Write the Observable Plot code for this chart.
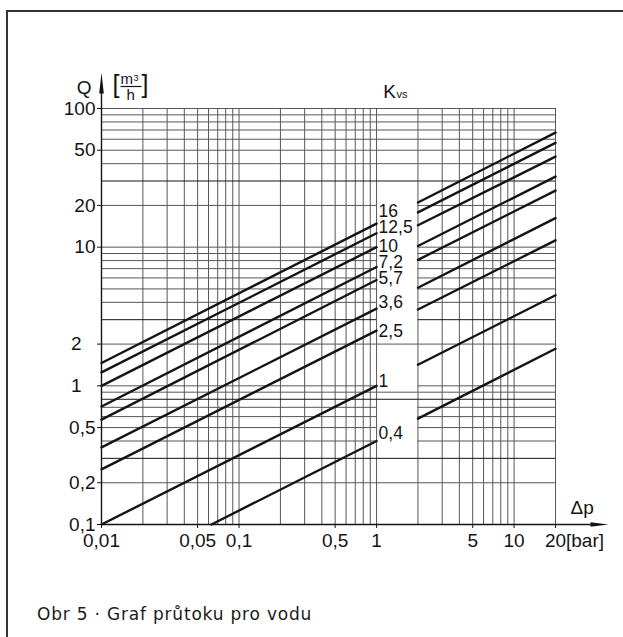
<!DOCTYPE html>
<html><head><meta charset="utf-8">
<script src="https://cdn.jsdelivr.net/npm/d3@7"></script>
<script src="https://cdn.jsdelivr.net/npm/@observablehq/plot@0.6"></script>
<style>
body{margin:0;background:#fff;}
#wrap{position:relative;width:623px;height:637px;overflow:hidden;font-family:"Liberation Sans",Arial,sans-serif;background:#fff;}
#frame{position:absolute;left:6px;top:10px;width:700px;height:700px;border-left:2px solid #333;border-top:2px solid #333;}
#chart{position:absolute;left:0;top:0;}
#caption{position:absolute;left:37px;top:604px;font-family:"DejaVu Sans",sans-serif;font-size:17px;letter-spacing:0.8px;line-height:normal;color:#1a1a1a;white-space:nowrap;}
</style></head><body>
<div id="wrap"><div id="frame"></div><div id="chart"></div><div id="caption">Obr 5 · Graf průtoku pro vodu</div></div>
<script>
// ---- data ----
const kvsLabels  = ["16","12,5","10","7,2","5,7","3,6","2,5","1","0,4"];
const leftDpStart = [0.01,0.01,0.01,0.01,0.01,0.01,0.01,0.01,0.063];
const leftQStart  = [1.46,1.25,1.0,0.71,0.57,0.36,0.25,0.1,0.1];
const leftDpEnd   = [1,1,1,1,1,1,1,1,1];
const leftQEnd    = [14.8,12.6,10,7.2,5.8,3.6,2.5,1.0,0.4];
const rightDpStart = [2,2,2,2,2,2,2,2,2];
const rightQStart  = [21,17.8,14.4,10.2,8.1,5.1,3.55,1.42,0.58];
const rightDpEnd   = [20,20,20,20,20,20,20,20,20];
const rightQEnd    = [67,56.5,45,32.3,25.6,16.2,11.2,4.5,1.85];
const labelQ       = [18.2,13.9,10.1,7.8,5.93,4.02,2.45,1.07,0.454];

const xTickVals   = [0.01,0.05,0.1,0.5,1,5,10,20];
const xTickLabels = ["0,01","0,05","0,1","0,5","1","5","10","20"];
const yTickVals   = [100,50,20,10,0.5,0.2,0.1];
const yTickLabels = ["100","50","20","10","0,5","0,2","0,1"];
const yTickVals2  = [2,1];
const yTickLabels2 = ["2","1"];

const xGrid = [0.01,0.02,0.03,0.04,0.05,0.06,0.07,0.08,0.09,
               0.1,0.2,0.3,0.4,0.5,0.6,0.7,0.8,0.9,
               1,2,3,4,5,6,7,8,9,10,20];
const yGrid = [0.1,0.2,0.3,0.4,0.5,0.6,0.7,0.8,0.9,
               1,2,3,4,5,6,7,8,9,
               10,20,30,40,50,60,70,80,90,100];
const yGridDark = [30,3,0.8,0.3];
const yGridAcrossGap = [100,90,80,70,60,50,40,30,2,0.9,0.8,0.3,0.2];

// ---- build tables ----
const segs = [];
kvsLabels.forEach((k,i)=>{
  segs.push({k, seg:"L", dp:leftDpStart[i], q:leftQStart[i]});
  segs.push({k, seg:"L", dp:leftDpEnd[i], q:leftQEnd[i]});
  segs.push({k, seg:"R", dp:rightDpStart[i], q:rightQStart[i]});
  segs.push({k, seg:"R", dp:rightDpEnd[i], q:rightQEnd[i]});
});

const arrowUp = {draw(ctx){ctx.moveTo(-0.7,0);ctx.lineTo(-0.7,-15);ctx.lineTo(-2.3,-15);ctx.lineTo(0,-36);ctx.lineTo(2.3,-15);ctx.lineTo(0.7,-15);ctx.lineTo(0.7,0);ctx.closePath();}};
const arrowRight = {draw(ctx){ctx.moveTo(0,-0.7);ctx.lineTo(35,-0.7);ctx.lineTo(35,-2.2);ctx.lineTo(53,0);ctx.lineTo(35,2.2);ctx.lineTo(35,0.7);ctx.lineTo(0,0.7);ctx.closePath();}};
const fracBar = {draw(ctx){ctx.rect(19,-22.6,21,1.2);}};

const grey = "#575757", ink = "#141414";
const light = yGrid.filter(d=>!yGridDark.includes(d));
const dark = yGrid.filter(d=>yGridDark.includes(d));
const one = [0];
const font = "'Liberation Sans', Arial, sans-serif";

const plot = Plot.plot({
  width: 623, height: 560,
  marginLeft: 101, marginRight: 68, marginTop: 108, marginBottom: 36,
  style: {background: "transparent", fontFamily: font, fontSize: "19px", color: ink, overflow: "visible"},
  x: {type: "log", domain: [0.01, 20], axis: null},
  y: {type: "log", domain: [0.1, 100], axis: null},
  marks: [
    Plot.ruleX(xGrid, {x: d=>d, y1: 0.1, y2: 100, stroke: grey, strokeWidth: 1}),
    Plot.ruleY(light, {y: d=>d, x1: 0.01, x2: 1, stroke: grey, strokeWidth: 1}),
    Plot.ruleY(light, {y: d=>d, x1: 2, x2: 20, stroke: grey, strokeWidth: 1}),
    Plot.ruleY(dark, {y: d=>d, x1: 0.01, x2: 1, stroke: ink, strokeWidth: 1}),
    Plot.ruleY(dark, {y: d=>d, x1: 2, x2: 20, stroke: ink, strokeWidth: 1}),
    Plot.ruleY(yGridAcrossGap.filter(d=>!yGridDark.includes(d)), {y: d=>d, x1: 1, x2: 2, stroke: grey, strokeWidth: 1}),
    Plot.ruleY(yGridAcrossGap.filter(d=>yGridDark.includes(d)), {y: d=>d, x1: 1, x2: 2, stroke: ink, strokeWidth: 1}),
    Plot.ruleY([0.1], {y: d=>d, x1: 0.01, x2: 20, stroke: ink, strokeWidth: 1.4}),
    Plot.ruleX([0.01], {x: d=>d, y1: 0.1, y2: 100, stroke: ink, strokeWidth: 1.4}),
    Plot.dot(one, {x: ()=>0.01, y: ()=>100, symbol: arrowUp, fill: ink, stroke: "none", r: 5}),
    Plot.dot(one, {x: ()=>20, y: ()=>0.1, symbol: arrowRight, fill: ink, stroke: "none", r: 5}),
    Plot.line(segs, {x: "dp", y: "q", z: d=>d.k+d.seg, stroke: ink, strokeWidth: 2.4}),
    Plot.text(kvsLabels, {x: ()=>1, y: (d,i)=>labelQ[i], text: d=>d, dx: 2, textAnchor: "start", fontSize: 17.5, fill: ink}),
    // x ticks and labels
    Plot.ruleX(xTickVals, {x: d=>d, y1: 0.1, y2: 0.1, insetBottom: -4, stroke: ink, strokeWidth: 1}),
    Plot.text(xTickVals, {x: d=>d, y: ()=>0.1, text: (d,i)=>xTickLabels[i], dy: 9, lineAnchor: "top", fontSize: 19, fill: ink}),
    // y ticks and labels
    Plot.ruleY(yTickVals.concat(yTickVals2), {y: d=>d, x1: 0.01, x2: 0.01, insetLeft: -4, stroke: ink, strokeWidth: 1}),
    Plot.text(yTickVals, {x: ()=>0.01, y: d=>d, text: (d,i)=>yTickLabels[i], dx: -6, textAnchor: "end", fontSize: 19, fill: ink}),
    Plot.text(yTickVals2, {x: ()=>0.01, y: d=>d, text: (d,i)=>yTickLabels2[i], dx: -20, textAnchor: "end", fontSize: 19, fill: ink}),
    Plot.text(["[bar]"], {x: ()=>20, y: ()=>0.1, dx: 10.5, dy: 9, textAnchor: "start", lineAnchor: "top", fontSize: 19, fill: ink}),
    Plot.text(["Δp"], {x: ()=>20, y: ()=>0.1, dx: 15, dy: -11, textAnchor: "start", lineAnchor: "bottom", fontSize: 19, fill: ink}),
    Plot.text(["Q"], {x: ()=>0.01, y: ()=>100, dx: -10, dy: -14.5, textAnchor: "end", lineAnchor: "bottom", fontSize: 19, fill: ink}),
    Plot.text(["["], {x: ()=>0.01, y: ()=>100, dx: 11, dy: -16, textAnchor: "start", lineAnchor: "bottom", fontSize: 25, fill: ink}),
    Plot.text(["]"], {x: ()=>0.01, y: ()=>100, dx: 40, dy: -16, textAnchor: "start", lineAnchor: "bottom", fontSize: 25, fill: ink}),
    Plot.text(["m"], {x: ()=>0.01, y: ()=>100, dx: 19, dy: -24.4, textAnchor: "start", lineAnchor: "bottom", fontSize: 15, fill: ink}),
    Plot.text(["3"], {x: ()=>0.01, y: ()=>100, dx: 32, dy: -28, textAnchor: "start", lineAnchor: "bottom", fontSize: 9, fill: ink}),
    Plot.dot(one, {x: ()=>0.01, y: ()=>100, symbol: fracBar, fill: ink, stroke: "none", r: 5}),
    Plot.text(["h"], {x: ()=>0.01, y: ()=>100, dx: 25, dy: -8.4, textAnchor: "start", lineAnchor: "bottom", fontSize: 15, fill: ink}),
    Plot.text(["K"], {x: ()=>1, y: ()=>100, dx: 6.6, dy: -10.4, textAnchor: "start", lineAnchor: "bottom", fontSize: 19, fill: ink}),
    Plot.text(["vs"], {x: ()=>1, y: ()=>100, dx: 20, dy: -10.4, textAnchor: "start", lineAnchor: "bottom", fontSize: 11, fill: ink})
  ]
});
document.getElementById("chart").appendChild(plot);
</script>
</body></html>
